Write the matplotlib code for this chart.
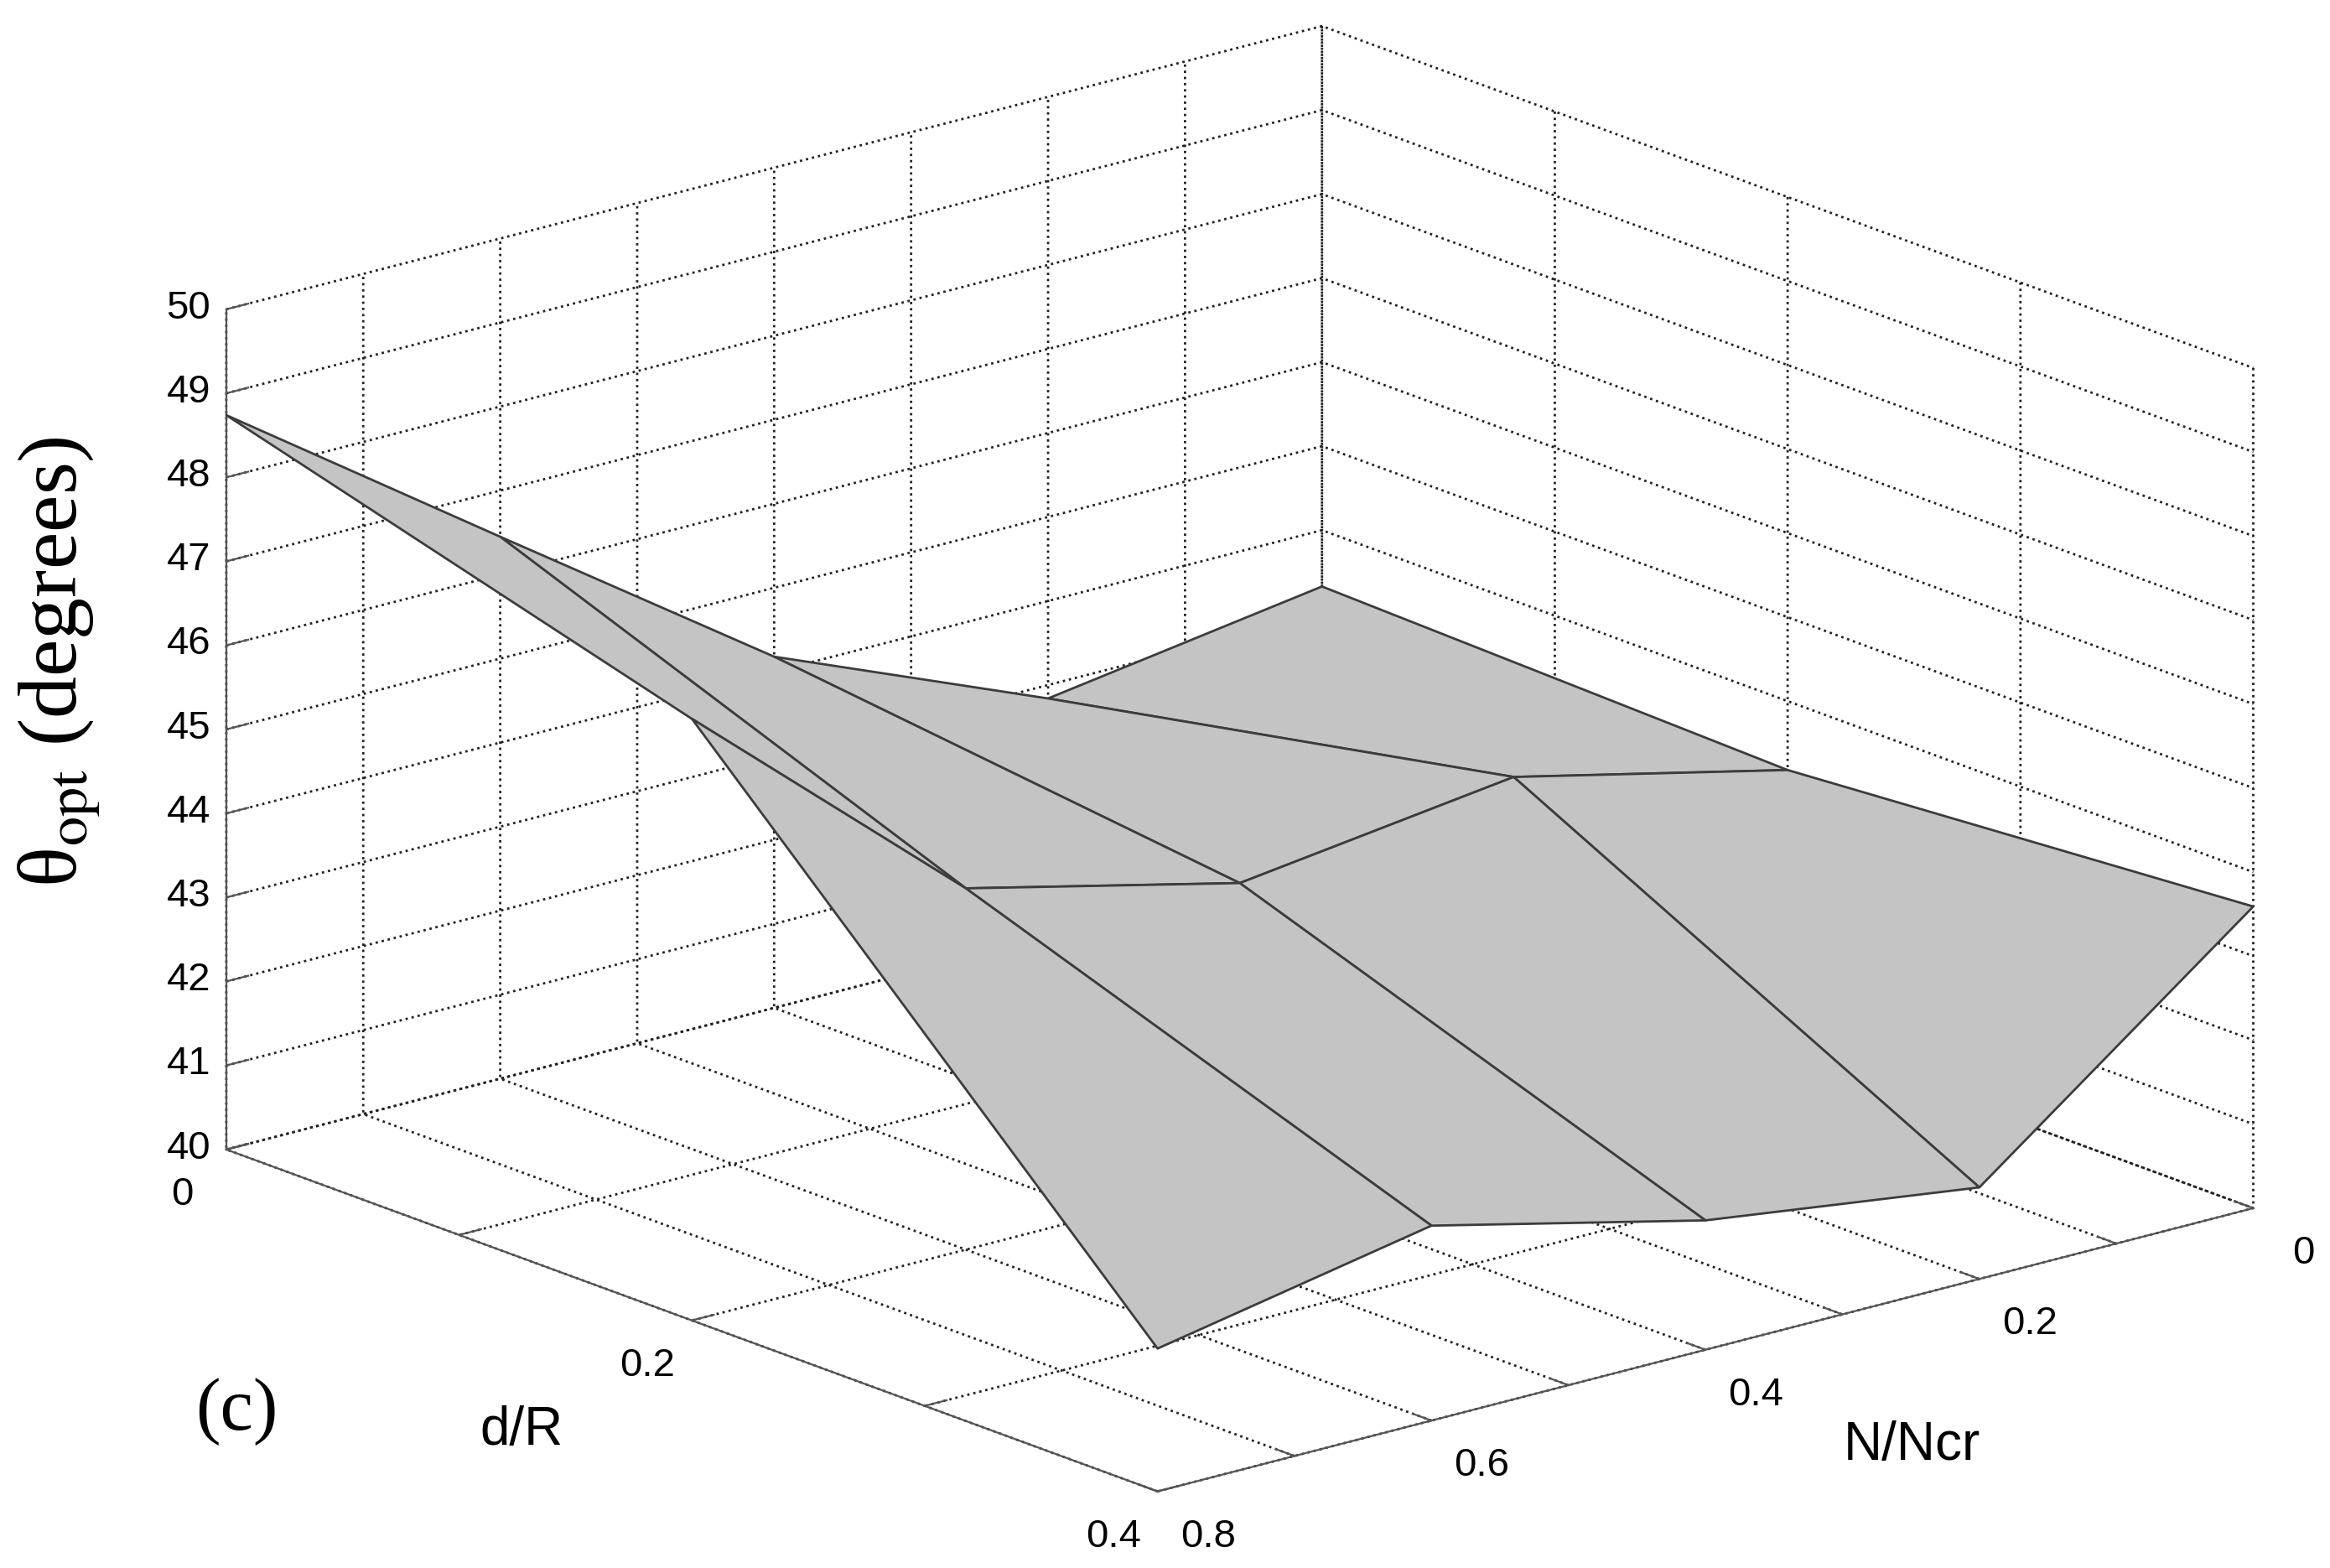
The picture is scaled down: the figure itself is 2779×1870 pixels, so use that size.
import numpy as np
import matplotlib
matplotlib.use("Agg")
import matplotlib.pyplot as plt

# valores (c): theta_opt em funcao de N/Ncr e d/R
n_ncr = [0.0, 0.2, 0.4, 0.6, 0.8]
d_r = [0.0, 0.2, 0.4]
theta_opt = [
    [43.33, 42.84, 44.18, 46.45, 48.74],  # d/R = 0
    [43.18, 43.94, 43.52, 44.30, 47.16],  # d/R = 0.2
    [43.59, 41.09, 41.54, 42.32, 41.70],  # d/R = 0.4
]
x_ticks = [0, 0.1, 0.2, 0.3, 0.4, 0.5, 0.6, 0.7, 0.8]
x_labels = ["0", "", "0.2", "", "0.4", "", "0.6", "", "0.8"]
y_ticks = [0, 0.1, 0.2, 0.3, 0.4]
y_labels = ["0", "", "0.2", "", "0.4"]
z_ticks = list(range(40, 51))

W, H = 2779, 1870
plt.rcParams["font.family"] = ["Liberation Sans", "DejaVu Sans"]
plt.rcParams["grid.linestyle"] = ":"
plt.rcParams["grid.color"] = "#222222"
plt.rcParams["grid.linewidth"] = 1.0
plt.rcParams["mathtext.fontset"] = "stix"

fig = plt.figure(figsize=(W / 200, H / 200), dpi=200)
ax = fig.add_axes([0.0573, -0.1895, 0.9246, 1.3741], projection="3d", proj_type="ortho")
ax.view_init(elev=17.94, azim=50)
ax.set_box_aspect((1704, 1726, 1052))

X, Y = np.meshgrid(n_ncr, d_r)
Z = np.array(theta_opt)
ax.plot_surface(X, Y, Z, color="#c4c4c4", edgecolor="#3c3c3c", linewidth=1.0,
                shade=False, rstride=1, cstride=1)

ax.set_xlim(0, 0.8)
ax.set_ylim(0, 0.4)
ax.set_zlim(40, 50)
ax.set_xticks(x_ticks)
ax.set_xticklabels(x_labels)
ax.set_yticks(y_ticks)
ax.set_yticklabels(y_labels)
ax.set_zticks(z_ticks)
for a in (ax.xaxis, ax.yaxis, ax.zaxis):
    a.set_pane_color((1, 1, 1, 0))
    a.line.set_color("#555555")
    a._axinfo["tick"]["inward_factor"] = 0.0
    a._axinfo["tick"]["outward_factor"] = 0.25
ax.tick_params(labelsize=17, colors="#555555", labelcolor="black")

# afastamento e alinhamento dos rotulos de cada eixo
ajuste = {ax.xaxis: (18.0, "bottom"), ax.yaxis: (11.5, "center"), ax.zaxis: (1.0, "center")}
for eixo, (pad, va) in ajuste.items():
    eixo.set_tick_params(pad=pad)
    for t in eixo.get_major_ticks():
        t.label1.set_va(va)

fig.text(70 / W, 1 - 789 / H, r"θ$_{\mathrm{opt}}$ (degrees)", rotation=90,
         fontsize=36, family="Liberation Serif", ha="center", va="center")
fig.text(282 / W, 1 - 1684 / H, "(c)", fontsize=32, family="Liberation Serif",
         ha="center", va="center")
fig.text(622 / W, 1 - 1706 / H, "d/R", fontsize=23, ha="center", va="center")
fig.text(2280 / W, 1 - 1724 / H, "N/Ncr", fontsize=23, ha="center", va="center")

fig.savefig("out.png", dpi=200)
